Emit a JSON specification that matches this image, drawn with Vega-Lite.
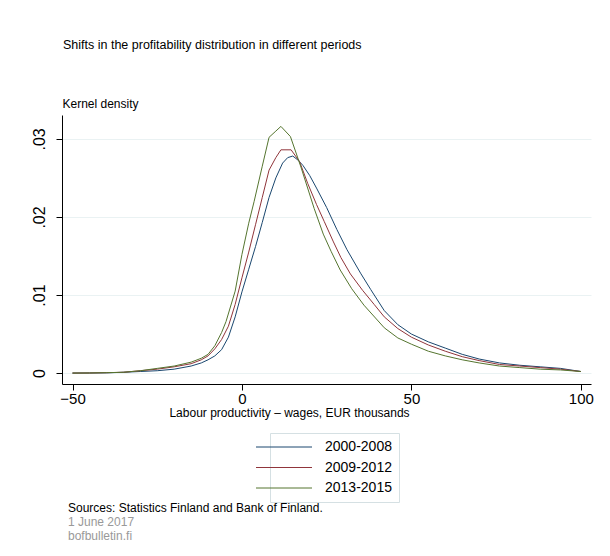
{
  "$schema": "https://vega.github.io/schema/vega-lite/v6.json",
  "autosize": {"type": "pad"},
  "padding": {"left": 30, "top": 38, "right": 18, "bottom": 10},
  "background": "white",
  "title": {
    "text": "Shifts in the profitability distribution in different periods",
    "anchor": "start",
    "frame": "group",
    "font": "Liberation Sans",
    "fontSize": 12.5,
    "fontWeight": "normal",
    "color": "#000000",
    "offset": 46,
    "dx": 1
  },
  "config": {
    "view": {"stroke": null},
    "font": "Liberation Sans",
    "axis": {
      "labelFont": "Liberation Sans Narrow, Liberation Sans",
      "labelFontSize": 16,
      "labelColor": "#000000",
      "titleFont": "Liberation Sans",
      "titleFontSize": 12,
      "titleFontWeight": "normal",
      "titleColor": "#000000",
      "domainColor": "#000000",
      "tickColor": "#000000",
      "tickSize": 6,
      "domainWidth": 1,
      "tickWidth": 1
    }
  },
  "vconcat": [
    {
      "width": 529,
      "height": 269,
      "title": {
        "text": "Sources: Statistics Finland and Bank of Finland.",
        "subtitle": ["1 June 2017", "bofbulletin.fi"],
        "orient": "bottom",
        "anchor": "start",
        "frame": "group",
        "font": "Liberation Sans",
        "fontSize": 12,
        "fontWeight": "normal",
        "color": "#000000",
        "subtitleFont": "Liberation Sans",
        "subtitleFontSize": 12,
        "subtitleColor": "#999999",
        "subtitlePadding": 2,
        "offset": 85,
        "dx": 6
      },
      "data": {
        "values": [
          {"p": "2000-2008", "x": -50, "y": 0},
          {"p": "2000-2008", "x": -45, "y": 0.00001},
          {"p": "2000-2008", "x": -40, "y": 0.00003},
          {"p": "2000-2008", "x": -35, "y": 0.0001},
          {"p": "2000-2008", "x": -30, "y": 0.0002},
          {"p": "2000-2008", "x": -25, "y": 0.0003},
          {"p": "2000-2008", "x": -20, "y": 0.0005},
          {"p": "2000-2008", "x": -15, "y": 0.0009},
          {"p": "2000-2008", "x": -12, "y": 0.0013},
          {"p": "2000-2008", "x": -10, "y": 0.0017},
          {"p": "2000-2008", "x": -8, "y": 0.0022},
          {"p": "2000-2008", "x": -6, "y": 0.003},
          {"p": "2000-2008", "x": -4, "y": 0.0046},
          {"p": "2000-2008", "x": -2, "y": 0.0072},
          {"p": "2000-2008", "x": 0, "y": 0.0104},
          {"p": "2000-2008", "x": 2, "y": 0.0133},
          {"p": "2000-2008", "x": 4, "y": 0.0162},
          {"p": "2000-2008", "x": 6, "y": 0.0193},
          {"p": "2000-2008", "x": 8, "y": 0.0225},
          {"p": "2000-2008", "x": 10, "y": 0.025},
          {"p": "2000-2008", "x": 12, "y": 0.0269},
          {"p": "2000-2008", "x": 13.5, "y": 0.0276},
          {"p": "2000-2008", "x": 15, "y": 0.0278},
          {"p": "2000-2008", "x": 16.5, "y": 0.0273},
          {"p": "2000-2008", "x": 18, "y": 0.0266},
          {"p": "2000-2008", "x": 20, "y": 0.0253},
          {"p": "2000-2008", "x": 22, "y": 0.0237},
          {"p": "2000-2008", "x": 25, "y": 0.0212},
          {"p": "2000-2008", "x": 28, "y": 0.0184},
          {"p": "2000-2008", "x": 31, "y": 0.0158},
          {"p": "2000-2008", "x": 35, "y": 0.0128},
          {"p": "2000-2008", "x": 38, "y": 0.0107},
          {"p": "2000-2008", "x": 42, "y": 0.008},
          {"p": "2000-2008", "x": 46, "y": 0.0062},
          {"p": "2000-2008", "x": 50, "y": 0.005},
          {"p": "2000-2008", "x": 55, "y": 0.004},
          {"p": "2000-2008", "x": 60, "y": 0.0032},
          {"p": "2000-2008", "x": 65, "y": 0.0024},
          {"p": "2000-2008", "x": 70, "y": 0.0018},
          {"p": "2000-2008", "x": 76, "y": 0.0013},
          {"p": "2000-2008", "x": 82, "y": 0.001},
          {"p": "2000-2008", "x": 88, "y": 0.0008},
          {"p": "2000-2008", "x": 94, "y": 0.0006},
          {"p": "2000-2008", "x": 100, "y": 0.0002},
          {"p": "2009-2012", "x": -50, "y": 0},
          {"p": "2009-2012", "x": -45, "y": 0.00001},
          {"p": "2009-2012", "x": -40, "y": 0.00005},
          {"p": "2009-2012", "x": -35, "y": 0.0001},
          {"p": "2009-2012", "x": -30, "y": 0.0003},
          {"p": "2009-2012", "x": -25, "y": 0.0005},
          {"p": "2009-2012", "x": -20, "y": 0.0008},
          {"p": "2009-2012", "x": -15, "y": 0.0012},
          {"p": "2009-2012", "x": -12, "y": 0.0017},
          {"p": "2009-2012", "x": -10, "y": 0.0022},
          {"p": "2009-2012", "x": -8, "y": 0.0031},
          {"p": "2009-2012", "x": -6, "y": 0.0043},
          {"p": "2009-2012", "x": -4, "y": 0.006},
          {"p": "2009-2012", "x": -2, "y": 0.0088},
          {"p": "2009-2012", "x": 0, "y": 0.0122},
          {"p": "2009-2012", "x": 2, "y": 0.0155},
          {"p": "2009-2012", "x": 4, "y": 0.019},
          {"p": "2009-2012", "x": 6, "y": 0.0225},
          {"p": "2009-2012", "x": 8, "y": 0.026},
          {"p": "2009-2012", "x": 10, "y": 0.0276},
          {"p": "2009-2012", "x": 11.5, "y": 0.0286},
          {"p": "2009-2012", "x": 14.5, "y": 0.0286},
          {"p": "2009-2012", "x": 17, "y": 0.0271},
          {"p": "2009-2012", "x": 19.4, "y": 0.0243},
          {"p": "2009-2012", "x": 22, "y": 0.0216},
          {"p": "2009-2012", "x": 24.3, "y": 0.0194},
          {"p": "2009-2012", "x": 27, "y": 0.0168},
          {"p": "2009-2012", "x": 29.2, "y": 0.0148},
          {"p": "2009-2012", "x": 32, "y": 0.0127},
          {"p": "2009-2012", "x": 35.6, "y": 0.0106},
          {"p": "2009-2012", "x": 39, "y": 0.0088},
          {"p": "2009-2012", "x": 42, "y": 0.0072},
          {"p": "2009-2012", "x": 46, "y": 0.0057},
          {"p": "2009-2012", "x": 50, "y": 0.0046},
          {"p": "2009-2012", "x": 55, "y": 0.0036},
          {"p": "2009-2012", "x": 60, "y": 0.0028},
          {"p": "2009-2012", "x": 65, "y": 0.0021},
          {"p": "2009-2012", "x": 70, "y": 0.0016},
          {"p": "2009-2012", "x": 76, "y": 0.0011},
          {"p": "2009-2012", "x": 82, "y": 0.0009},
          {"p": "2009-2012", "x": 88, "y": 0.0007},
          {"p": "2009-2012", "x": 94, "y": 0.0005},
          {"p": "2009-2012", "x": 100, "y": 0.0002},
          {"p": "2013-2015", "x": -50, "y": 0},
          {"p": "2013-2015", "x": -45, "y": 0.00001},
          {"p": "2013-2015", "x": -40, "y": 0.00005},
          {"p": "2013-2015", "x": -35, "y": 0.0001},
          {"p": "2013-2015", "x": -30, "y": 0.0003},
          {"p": "2013-2015", "x": -25, "y": 0.0006},
          {"p": "2013-2015", "x": -20, "y": 0.0009},
          {"p": "2013-2015", "x": -15, "y": 0.0014},
          {"p": "2013-2015", "x": -12, "y": 0.0019},
          {"p": "2013-2015", "x": -10, "y": 0.0024},
          {"p": "2013-2015", "x": -8, "y": 0.0035},
          {"p": "2013-2015", "x": -6, "y": 0.0052},
          {"p": "2013-2015", "x": -4.7, "y": 0.0066},
          {"p": "2013-2015", "x": -2, "y": 0.0105},
          {"p": "2013-2015", "x": 0, "y": 0.0152},
          {"p": "2013-2015", "x": 2, "y": 0.0192},
          {"p": "2013-2015", "x": 3.6, "y": 0.022},
          {"p": "2013-2015", "x": 6, "y": 0.0265},
          {"p": "2013-2015", "x": 8, "y": 0.0302},
          {"p": "2013-2015", "x": 10, "y": 0.031},
          {"p": "2013-2015", "x": 11.5, "y": 0.0316},
          {"p": "2013-2015", "x": 14.3, "y": 0.0303},
          {"p": "2013-2015", "x": 17.4, "y": 0.0264},
          {"p": "2013-2015", "x": 21.3, "y": 0.0211},
          {"p": "2013-2015", "x": 24, "y": 0.0178},
          {"p": "2013-2015", "x": 26.3, "y": 0.0156},
          {"p": "2013-2015", "x": 29, "y": 0.0132},
          {"p": "2013-2015", "x": 32.4, "y": 0.0108},
          {"p": "2013-2015", "x": 36, "y": 0.0087},
          {"p": "2013-2015", "x": 42, "y": 0.0058},
          {"p": "2013-2015", "x": 46, "y": 0.0045},
          {"p": "2013-2015", "x": 50, "y": 0.0037},
          {"p": "2013-2015", "x": 55, "y": 0.0028},
          {"p": "2013-2015", "x": 60, "y": 0.0022},
          {"p": "2013-2015", "x": 65, "y": 0.0017},
          {"p": "2013-2015", "x": 70, "y": 0.0013},
          {"p": "2013-2015", "x": 76, "y": 0.0009},
          {"p": "2013-2015", "x": 82, "y": 0.0007},
          {"p": "2013-2015", "x": 88, "y": 0.0005},
          {"p": "2013-2015", "x": 94, "y": 0.0004},
          {"p": "2013-2015", "x": 100, "y": 0.0002}
        ]
      },
      "mark": {"type": "line", "strokeWidth": 1, "interpolate": "linear"},
      "encoding": {
        "x": {
          "field": "x",
          "type": "quantitative",
          "scale": {"domain": [-53.1, 103], "nice": false, "zero": false},
          "axis": {
            "values": [-50, 0, 50, 100],
            "grid": false,
            "labelFontSize": 15,
            "labelPadding": 1,
            "title": "Labour productivity – wages, EUR thousands",
            "titlePadding": 1,
            "titleX": 227,
            "titleAlign": "center"
          }
        },
        "y": {
          "field": "y",
          "type": "quantitative",
          "scale": {"domain": [-0.0014, 0.03306], "nice": false, "zero": false},
          "axis": {
            "values": [0, 0.01, 0.02, 0.03],
            "labelExpr": "datum.value == 0 ? '0' : replace(format(datum.value, '.2f'), '0.', '.')",
            "labelAngle": 270,
            "labelAlign": "center",
            "labelBaseline": "bottom",
            "labelPadding": 9,
            "grid": true,
            "gridColor": "#eaf2f3",
            "gridWidth": 1,
            "title": "Kernel density",
            "titleAngle": 0,
            "titleAlign": "left",
            "titleBaseline": "bottom",
            "titleX": 0,
            "titleY": -5
          }
        },
        "color": {
          "field": "p",
          "type": "nominal",
          "scale": {
            "domain": ["2000-2008", "2009-2012", "2013-2015"],
            "range": ["#1a476f", "#90353b", "#55752f"]
          },
          "legend": {
            "orient": "none",
            "legendX": 208,
            "legendY": 318,
            "title": null,
            "symbolType": "M-5.6,0H5.6",
            "symbolSize": 100,
            "symbolStrokeWidth": 1,
            "symbolFillColor": "transparent",
            "labelFont": "Liberation Sans",
            "labelFontSize": 14,
            "labelColor": "#000000",
            "labelOffset": 34,
            "rowPadding": 6.5,
            "strokeColor": "#d5e0e3",
            "fillColor": "#ffffff",
            "padding": 7
          }
        }
      }
    }
  ]
}
